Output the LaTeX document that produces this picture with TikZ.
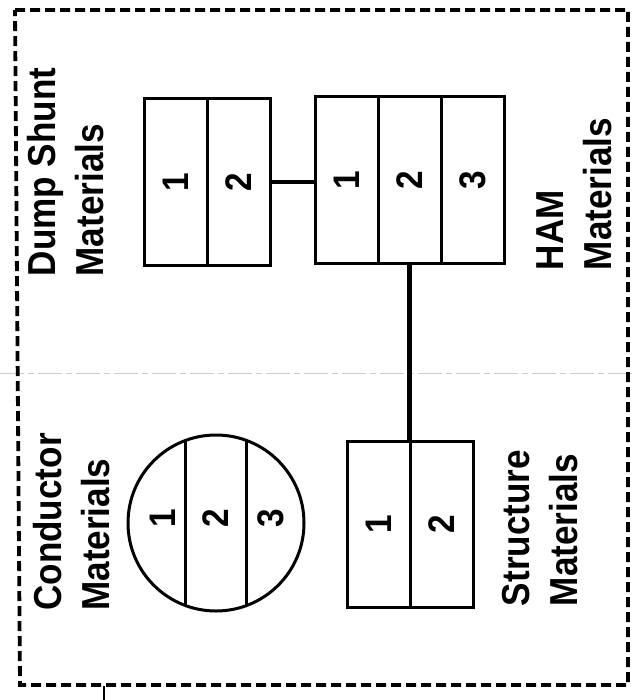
\documentclass[tikz,border=0pt]{standalone}
\usepackage{fontspec}
\usepackage{graphicx}
\setmainfont{Liberation Sans}[FakeStretch=0.9]
\usetikzlibrary{calc,positioning}
\begin{document}
\begin{tikzpicture}[x=0.5pt,y=-0.5pt,
  cell/.style={draw, line width=1.5pt, minimum width=31.5pt, minimum height=83pt,
    inner sep=0pt, outer sep=0pt, font=\fontsize{18.5}{20}\selectfont\bfseries},
  num/.style={inner sep=0pt, font=\fontsize{18.5}{20}\selectfont\bfseries, rotate=90},
  lab/.style={align=left, inner sep=0pt, rotate=90,
    font=\fontsize{19.5}{24}\selectfont\bfseries},
  conn/.style={line width=2.4pt},
  frame/.style={line width=1.9pt, dash pattern=on 5pt off 2.5pt}]
\useasboundingbox (0,0) rectangle (636,700);
\fill[white] (0,0) rectangle (636,700);

% fold line across the sheet
\draw[gray!40, line width=0.5pt, dash pattern=on 12pt off 2pt on 3pt off 2pt] (0,373) -- (636,373);

% dashed outline of the group
\draw[frame] (15,10) -- (628,10) -- (628,685) -- (20,685) -- cycle;
\draw[line width=0.6pt] (104,686) -- (104,700);

% Dump Shunt materials
\node[cell] (d1) at (175.5,182) {\rotatebox{90}{1}};
\node[cell, right=0pt of d1] (d2) {\rotatebox{90}{2}};

% HAM materials
\node[cell] (h1) at (346.5,180) {\rotatebox{90}{1}};
\node[cell, right=0pt of h1] (h2) {\rotatebox{90}{2}};
\node[cell, right=0pt of h2] (h3) {\rotatebox{90}{3}};

% Structure materials
\node[cell] (s1) at (379,524) {\rotatebox{90}{1}};
\node[cell, right=0pt of s1] (s2) {\rotatebox{90}{2}};

% Conductor materials: circle cut into three bands
\node[draw, circle, line width=1.5pt, minimum size=88pt, inner sep=0pt] (cond) at (216,523) {};
\draw[line width=1.5pt] ($(cond.center)+(-30.5,-82.5)$) -- ($(cond.center)+(-30.5,82.5)$);
\draw[line width=1.5pt] ($(cond.center)+(30.5,-82.5)$) -- ($(cond.center)+(30.5,82.5)$);
\node[num] (c1) at ($(cond.center)+(-53,-5)$) {1};
\node[num] (c2) at ($(cond.center)+(0,-5)$) {2};
\node[num] (c3) at ($(cond.center)+(55,-5)$) {3};

% links
\draw[conn] (d2.east) -- (d2.east -| h1.west);
\draw[conn] (h2.south) -- (h2.south |- s1.north);

% labels
\node[lab] (dlab) at (66,172) {Dump Shunt\\Materials};
\node[lab] (hlab) at (574,194) {HAM\\Materials};
\node[lab] (clab) at (72,522) {Conductor\\Materials};
\node[lab] (slab) at (540,528) {Structure\\Materials};
\end{tikzpicture}
\end{document}
